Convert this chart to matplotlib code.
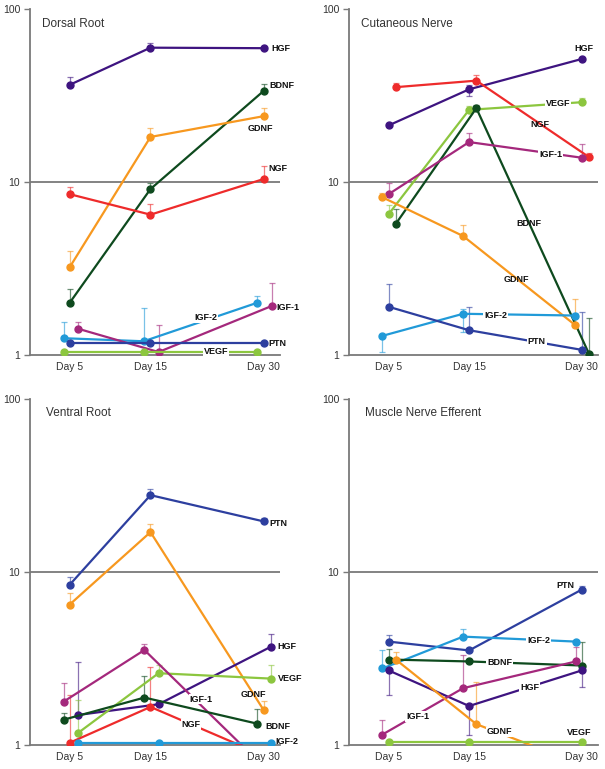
import numpy as np
import matplotlib
matplotlib.use("Agg")
import matplotlib.pyplot as plt

plt.rcParams['font.family'] = ['Liberation Sans', 'DejaVu Sans']

# x axis
day_labels = ["Day 5", "Day 15", "Day 30"]
day_pos = [5, 15, 29]

factor_colors = {
    "HGF": "#3e1480",
    "BDNF": "#0e4a1e",
    "GDNF": "#f7981f",
    "NGF": "#ee2b2b",
    "IGF-2": "#219ad8",
    "IGF-1": "#a4287c",
    "PTN": "#2d3f9f",
    "VEGF": "#8cc63f",
}

# ---- Dorsal Root ----
dorsal_vals = {
    "HGF": [36.4, 59.7, 59.3],
    "BDNF": [2.0, 9.1, 33.6],
    "GDNF": [3.21, 18.2, 24.0],
    "NGF": [8.5, 6.47, 10.4],
    "IGF-2": [1.25, 1.20, 2.0],
    "IGF-1": [1.42, 1.04, 1.92],
    "PTN": [1.17, 1.17, 1.17],
    "VEGF": [1.045, 1.045, 1.045],
}
dorsal_hi = {
    "HGF": [40.5, 63.9, 59.3],
    "BDNF": [2.4, 9.9, 36.7],
    "GDNF": [3.99, 20.4, 26.9],
    "NGF": [9.4, 7.46, 12.3],
    "IGF-2": [1.56, 1.88, 2.18],
    "IGF-1": [1.55, 1.49, 2.61],
}
dorsal_lo = {}

# ---- Cutaneous Nerve ----
cutaneous_vals = {
    "HGF": [21.2, 34.3, 51.4],
    "NGF": [35.3, 38.5, 13.9],
    "VEGF": [6.5, 26.1, 28.9],
    "BDNF": [5.72, 26.7, 1.01],
    "IGF-1": [8.49, 17.0, 13.8],
    "GDNF": [8.15, 4.87, 1.49],
    "IGF-2": [1.29, 1.73, 1.69],
    "PTN": [1.90, 1.39, 1.07],
}
cutaneous_hi = {
    "HGF": [21.2, 36.5, 51.4],
    "NGF": [37.5, 41.3, 14.7],
    "VEGF": [7.36, 27.5, 30.7],
    "BDNF": [6.98, 27.9, 1.64],
    "IGF-1": [9.9, 19.3, 16.6],
    "GDNF": [8.6, 5.64, 2.1],
    "IGF-2": [1.29, 1.85, 1.75],
    "PTN": [2.56, 1.90, 1.77],
}
cutaneous_lo = {
    "HGF": [21.2, 31.5, 51.4],
    "IGF-2": [1.04, 1.35, 1.46],
}

# ---- Ventral Root ----
ventral_vals = {
    "PTN": [8.43, 27.8, 19.6],
    "GDNF": [6.48, 17.0, 1.59],
    "HGF": [1.49, 1.72, 3.70],
    "VEGF": [1.17, 2.60, 2.42],
    "IGF-1": [1.78, 3.54, 0.82],
    "BDNF": [1.40, 1.88, 1.33],
    "NGF": [1.03, 1.66, 0.87],
    "IGF-2": [1.03, 1.03, 1.03],
}
ventral_hi = {
    "PTN": [9.33, 30.0, 20.5],
    "GDNF": [7.54, 19.0, 1.80],
    "HGF": [3.03, 1.72, 4.38],
    "VEGF": [1.82, 2.91, 2.91],
    "IGF-1": [2.28, 3.84, 0.82],
    "BDNF": [1.53, 2.51, 1.61],
    "NGF": [1.94, 2.83, 0.87],
}
ventral_lo = {}

# ---- Muscle Nerve Efferent ----
muscle_vals = {
    "PTN": [3.96, 3.52, 7.92],
    "IGF-2": [2.77, 4.23, 3.96],
    "BDNF": [3.12, 3.04, 2.88],
    "HGF": [2.70, 1.68, 2.70],
    "IGF-1": [1.15, 2.13, 3.04],
    "GDNF": [3.12, 1.32, 0.74],
    "VEGF": [1.035, 1.035, 1.035],
}
muscle_hi = {
    "PTN": [4.33, 3.52, 8.25],
    "IGF-2": [3.56, 4.69, 4.05],
    "BDNF": [3.6, 3.04, 3.96],
    "IGF-1": [1.39, 3.31, 3.67],
    "GDNF": [3.43, 2.30, 0.74],
}
muscle_lo = {
    "HGF": [1.94, 1.15, 2.17],
}

# small horizontal shifts so the error bars don't sit on top of each other
nudge = {
    "Dorsal Root": {"IGF-2": [-0.75, -0.85, -0.85], "IGF-1": [1.0, 1.0, 1.0],
                    "VEGF": [-0.75, -0.75, -0.85]},
    "Cutaneous Nerve": {"NGF": [0.9, 0.9, 0.9], "BDNF": [0.9, 0.9, 0.9],
                        "GDNF": [-0.75, -0.75, -0.85], "IGF-2": [-0.75, -0.75, -0.85]},
    "Ventral Root": {"HGF": [1.0, 1.0, 0.9], "VEGF": [1.0, 1.0, 0.9],
                     "IGF-1": [-0.75, -0.75, -0.85], "BDNF": [-0.75, -0.75, -0.85],
                     "IGF-2": [1.0, 1.0, 0.9]},
    "Muscle Nerve Efferent": {"IGF-2": [-0.75, -0.75, -0.75], "IGF-1": [-0.75, -0.75, -0.75],
                              "GDNF": [0.9, 0.9, 0.9]},
}

# series labels: (name, x, y, ha, white box)
labels = {
    "Dorsal Root": [
        ("HGF", 30.0, 59.4, "left", False), ("BDNF", 29.7, 35.9, "left", False),
        ("GDNF", 28.6, 20.5, "center", False), ("NGF", 29.6, 12.0, "left", False),
        ("IGF-2", 21.8, 1.65, "center", True), ("IGF-1", 30.6, 1.89, "left", False),
        ("PTN", 29.6, 1.17, "left", False), ("VEGF", 23.1, 1.045, "center", True),
    ],
    "Cutaneous Nerve": [
        ("HGF", 29.3, 59.3, "center", False), ("VEGF", 26.0, 28.4, "center", True),
        ("NGF", 23.8, 21.6, "center", False), ("IGF-1", 25.1, 14.5, "center", True),
        ("BDNF", 22.4, 5.72, "center", False), ("GDNF", 20.9, 2.74, "center", False),
        ("IGF-2", 18.3, 1.69, "center", True), ("PTN", 23.4, 1.19, "center", True),
    ],
    "Ventral Root": [
        ("PTN", 29.7, 19.0, "left", False), ("HGF", 30.7, 3.70, "left", False),
        ("VEGF", 30.8, 2.42, "left", False), ("GDNF", 27.7, 1.97, "center", False),
        ("IGF-1", 21.3, 1.84, "center", True), ("NGF", 20.0, 1.31, "center", True),
        ("BDNF", 29.2, 1.28, "left", False), ("IGF-2", 30.5, 1.05, "left", False),
    ],
    "Muscle Nerve Efferent": [
        ("PTN", 27.0, 8.39, "center", False), ("IGF-2", 23.6, 4.01, "center", True),
        ("BDNF", 18.8, 3.01, "center", True), ("HGF", 22.5, 2.16, "center", True),
        ("IGF-1", 8.6, 1.46, "center", True), ("GDNF", 18.8, 1.19, "center", True),
        ("VEGF", 28.7, 1.18, "center", False),
    ],
}

panels = [
    ("Dorsal Root", dorsal_vals, dorsal_hi, dorsal_lo, [0.0496, 0.5384, 0.413, 0.450], (0.048, 0.957)),
    ("Cutaneous Nerve", cutaneous_vals, cutaneous_hi, cutaneous_lo, [0.5769, 0.5384, 0.4116, 0.450], (0.048, 0.957)),
    ("Ventral Root", ventral_vals, ventral_hi, ventral_lo, [0.0496, 0.0312, 0.413, 0.450], (0.063, 0.959)),
    ("Muscle Nerve Efferent", muscle_vals, muscle_hi, muscle_lo, [0.5769, 0.0312, 0.4116, 0.450], (0.064, 0.959)),
]

axis_gray = "#7a7a7a"
text_gray = "#333333"

fig = plt.figure(figsize=(6.05, 7.69), dpi=100)

for title, vals, hi, lo, rect, tpos in panels:
    ax = fig.add_axes(rect)
    ax.set_yscale("log")
    ax.set_ylim(1, 100)
    ax.set_xlim(0.1, 31)

    ax.axhline(10, color=axis_gray, lw=1.3, zorder=1)

    for name, v in vals.items():
        color = factor_colors[name]
        dx = nudge[title].get(name, [0, 0, 0])
        x = np.array(day_pos) + np.array(dx)
        v = np.array(v)
        up = np.array(hi.get(name, v)) - v
        dn = v - np.array(lo.get(name, v))
        if np.any(up > 0) or np.any(dn > 0):
            ax.errorbar(x, v, yerr=[dn, up], fmt="none", ecolor=color, alpha=0.6,
                        elinewidth=0.9, capsize=2, capthick=0.9, zorder=2)
        ax.plot(x, v, color=color, lw=1.6, marker="o", ms=5, zorder=3)

    for name, lx, ly, ha, boxed in labels[title]:
        kw = {}
        if boxed:
            kw["bbox"] = dict(facecolor="white", edgecolor="none", pad=0.6)
        ax.text(lx, ly, name, ha=ha, va="center", fontsize=6.5, fontweight="bold",
                color="#111111", zorder=5, **kw)

    ax.text(tpos[0], tpos[1], title, transform=ax.transAxes, fontsize=8.5,
            color=text_gray, ha="left", va="center")

    ax.set_xticks(day_pos)
    ax.set_xticklabels(day_labels)
    ax.set_yticks([1, 10, 100])
    ax.set_yticklabels(["1", "10", "100"])
    ax.minorticks_off()
    ax.tick_params(axis="x", length=0, pad=5, labelsize=7.5, labelcolor=text_gray)
    ax.tick_params(axis="y", length=4, width=1, color=axis_gray, pad=3,
                   labelsize=7.5, labelcolor=text_gray)

    for s in ["top", "right"]:
        ax.spines[s].set_visible(False)
    for s in ["left", "bottom"]:
        ax.spines[s].set_color(axis_gray)
        ax.spines[s].set_linewidth(1.3)

fig.savefig("out.png", dpi=100)
